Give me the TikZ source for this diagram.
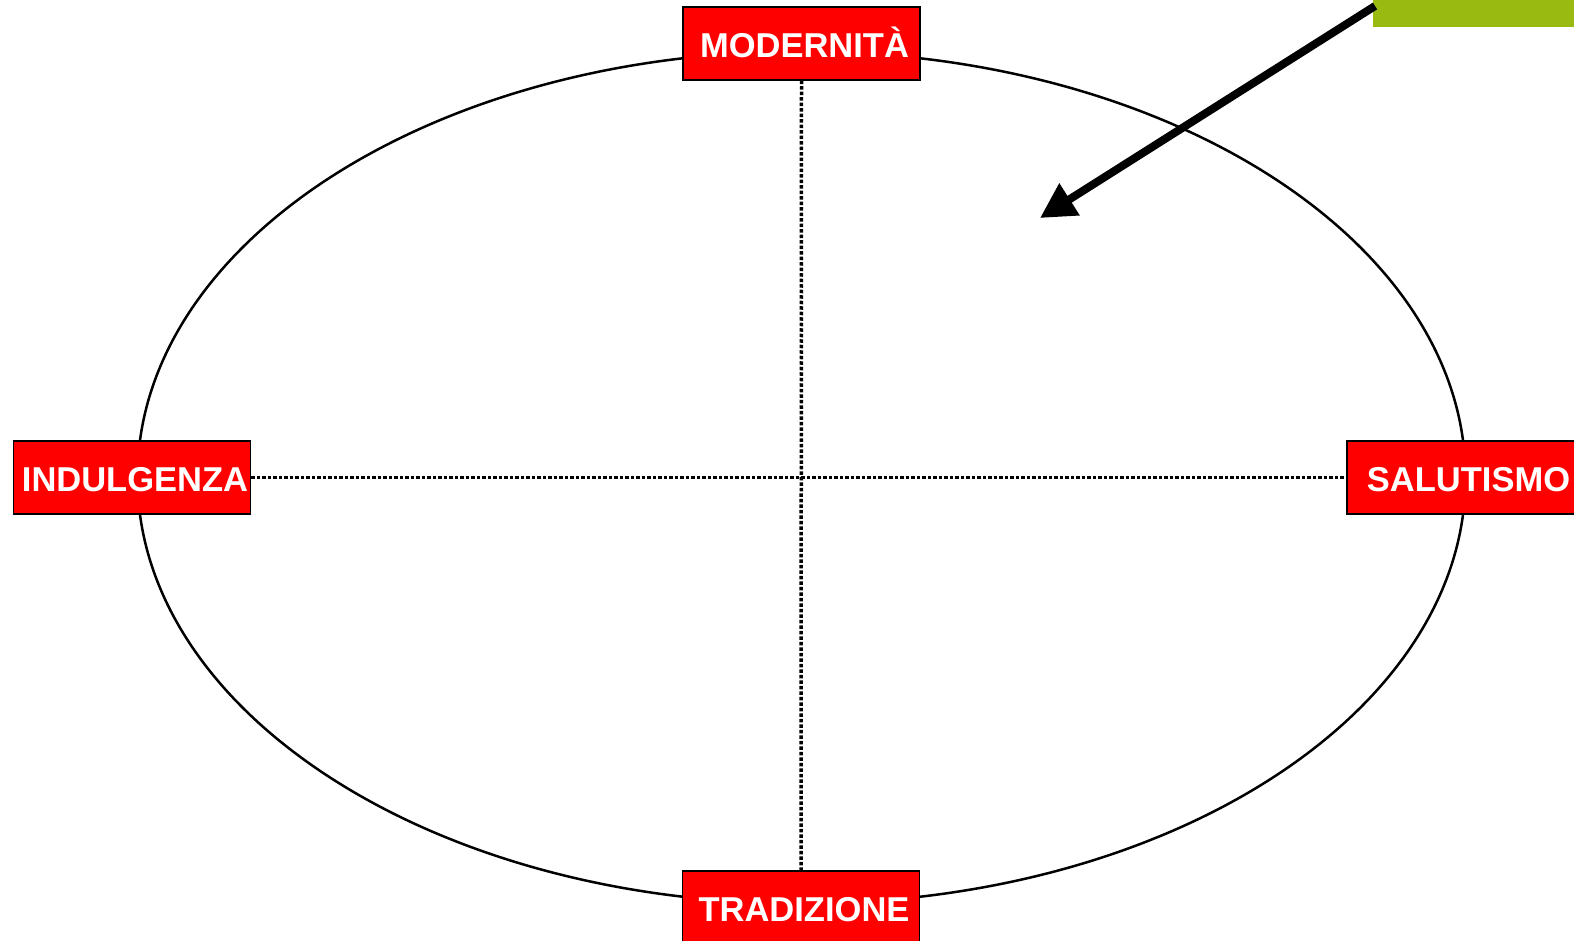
\documentclass[tikz,border=0pt]{standalone}
\usepackage{fontspec}
\setmainfont{Liberation Sans}
\definecolor{mapred}{RGB}{255,0,0}
\definecolor{mapgreen}{RGB}{153,187,17}
\usetikzlibrary{arrows.meta,positioning,shapes.geometric}
\tikzset{
  pole/.style={draw=black, line width=1.5pt, fill=mapred, text=white,
               font=\fontsize{34.5}{40}\selectfont\bfseries,
               text height=28.5pt, text depth=0pt,
               execute at begin node=\hspace*{6pt},
               minimum width=237pt, minimum height=73pt, inner sep=0pt},
  axis/.style={line width=3.5pt, dash pattern=on 3.5pt off 2pt},
  tagbox/.style={fill=mapgreen, minimum width=201pt, minimum height=27pt, inner sep=0pt},
}
\begin{document}
\begin{tikzpicture}[x=1pt, y=-1pt]
\useasboundingbox (0,0) rectangle (1574,941);
\clip (0,0) rectangle (1574,941);

% Outer ellipse
\draw[line width=2.5pt] (801.5,477.5) ellipse [x radius=664pt, y radius=426pt];

% Poles
\node[pole] (modern) at (801.5,43.5) {MODERNITÀ};
\node[pole] (trad) at (801,907.5) {TRADIZIONE};
\node[pole] (indulg) at (132,477.5) {INDULGENZA};
\node[pole] (salut) at (1465.5,477.5) {SALUTISMO};

% Axes
\draw[axis] (modern.south) -- (trad.north);
\draw[axis] (indulg.east) -- (salut.west);

% Green tag and pointer
\node[tagbox] (tag) at (1473.5,13.5) {};
\coordinate (src) at (1375,6);
\coordinate (aim) at (1040,218);
\draw[line width=8pt, -{Triangle[length=35pt, width=36pt]}] (src) -- (aim);

\end{tikzpicture}
\end{document}
